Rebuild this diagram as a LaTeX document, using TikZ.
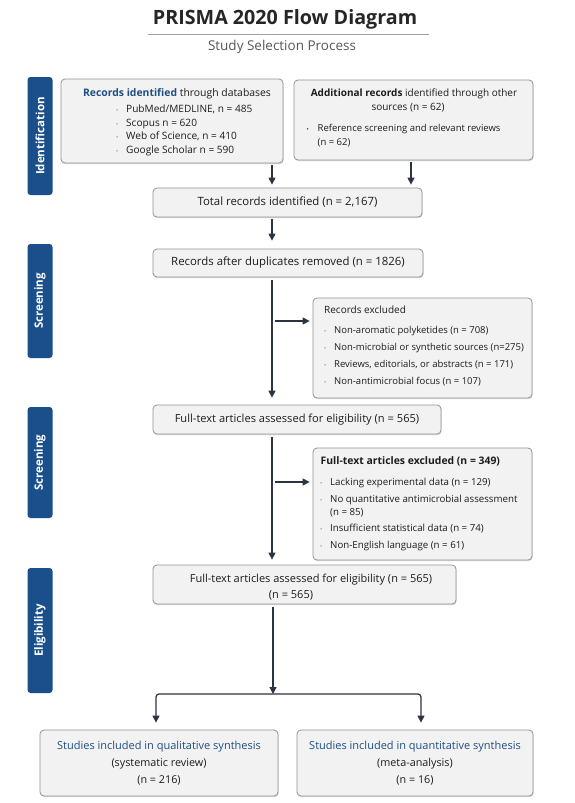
\documentclass[tikz,border=0pt]{standalone}
\usepackage{fontspec}
\setmainfont{Open Sans}
\usetikzlibrary{arrows.meta,shadows}
\definecolor{navy}{HTML}{1A4F8C}
\definecolor{navytxt}{HTML}{1F4E82}
\definecolor{boxfill}{HTML}{F2F2F3}
\definecolor{boxline}{HTML}{8F9296}
\definecolor{arrowc}{HTML}{2C3440}
\definecolor{txt}{HTML}{1C1C1C}
\definecolor{bulc}{HTML}{8A8A8A}
\definecolor{rulec}{HTML}{A0A0A0}
\newcommand\fsz[1]{\fontsize{#1}{#1}\selectfont}
\newcommand\bulg{\makebox[10pt][l]{\color{bulc}\fontsize{6}{6}\selectfont\textbullet}}
\newcommand\bulk{\makebox[11pt][l]{\color{txt}\fontsize{6}{6}\selectfont\textbullet}}
\begin{document}
\begin{tikzpicture}[x=1pt,y=-1pt,
  box/.style={draw=boxline, fill=boxfill, rounded corners=4pt, line width=0.8pt, inner sep=0pt,
    drop shadow={shadow xshift=0.6pt, shadow yshift=-1.2pt, opacity=0.15, fill=black}},
  phase/.style={fill=navy, rounded corners=3pt, text=white, font=\fsz{11.5}\bfseries, rotate=90, inner sep=0pt},
  conn/.style={draw=arrowc, line width=1.2pt, -{Triangle[length=7pt,width=7pt]}},
  lbl/.style={text=txt, inner sep=0pt},
]
\useasboundingbox[fill=white] (0,0) rectangle (575,803);

% title
\node[lbl, font=\fsz{19.7}\bfseries, text=black!85] (title) at (285,19) {PRISMA 2020 Flow Diagram};
\coordinate (rl) at (148,34);
\coordinate (rr) at (429,34);
\draw[rulec, line width=0.7pt] (rl) -- (rr);
\node[lbl, font=\fsz{13.5}, text=black!65] (subtitle) at (282,47) {Study Selection Process};

% phase labels
\node[phase, minimum width=118, minimum height=25] (pid) at (40,136) {Identification};
\node[phase, minimum width=114, minimum height=25] (ps1) at (40,301) {Screening};
\node[phase, minimum width=111, minimum height=25] (ps2) at (40,462.5) {Screening};
\node[phase, minimum width=125, minimum height=25] (pel) at (40,630.5) {Eligibility};

% boxes
\node[box, minimum width=222, minimum height=84] (boxA) at (172,121) {};
\node[box, minimum width=239, minimum height=80] (boxB) at (413.5,120) {};
\node[box, minimum width=269, minimum height=29, font=\fsz{11.4}, text=txt] (total) at (287.5,202.5) {Total records identified (n = 2,167)};
\node[box, minimum width=270, minimum height=28, font=\fsz{11.4}, text=txt] (dup) at (288,263) {Records after duplicates removed (n = 1826)};
\node[box, minimum width=219, minimum height=100] (excl1) at (422.5,348) {};
\node[box, minimum width=288, minimum height=29, font=\fsz{11.1}, text=txt] (ft) at (297,419.5) {Full-text articles assessed for eligibility (n = 565)};
\node[box, minimum width=219, minimum height=112] (excl2) at (422.5,504) {};
\node[box, minimum width=303, minimum height=39] (elig) at (304.5,584.5) {};
\node[box, minimum width=238, minimum height=66, align=center, font=\fontsize{10.8}{17}\selectfont, text=txt] (qual) at (159,763)
  {\textcolor{navytxt}{\fontsize{11}{17}\selectfont Studies included in qualitative synthesis}\\(systematic review)\\(n = 216)};
\node[box, minimum width=236, minimum height=66, align=center, font=\fontsize{10.8}{17}\selectfont, text=txt] (quant) at (415,763)
  {\textcolor{navytxt}{\fontsize{11}{17}\selectfont Studies included in quantitative synthesis}\\(meta-analysis)\\(n = 16)};

% box A text
\node[lbl, anchor=base, font=\fsz{10.4}] (aT) at (177,96.5) {\textcolor{navytxt}{\bfseries Records identified} through databases};
\node[lbl, anchor=base west, font=\fsz{10.1}] (a1) at (116,112.5) {\bulg PubMed/MEDLINE, n = 485};
\node[lbl, anchor=base west, font=\fsz{10.1}] (a2) at (116,126.5) {\bulg Scopus n = 620};
\node[lbl, anchor=base west, font=\fsz{10.1}] (a3) at (116,139.5) {\bulg Web of Science, n = 410};
\node[lbl, anchor=base west, font=\fsz{10.1}] (a4) at (116,153.5) {\bulg Google Scholar n = 590};

% box B text
\node[lbl, anchor=base, font=\fsz{10}] (bT1) at (414,96.5) {\textbf{Additional records} identified through other};
\node[lbl, anchor=base, font=\fsz{10}] (bT2) at (408,110.5) {sources (n = 62)};
\node[lbl, anchor=base west, font=\fsz{9.5}] (b1) at (306.5,131.5) {\bulk Reference screening and relevant reviews};
\node[lbl, anchor=base west, font=\fsz{9.5}] (b2) at (317.5,145.5) {(n = 62)};

% excluded 1 text
\node[lbl, anchor=base west, font=\fsz{10}] (e1T) at (324,313.5) {Records excluded};
\node[lbl, anchor=base west, font=\fsz{9.5}] (e11) at (324,333.5) {\bulg Non-aromatic polyketides (n = 708)};
\node[lbl, anchor=base west, font=\fsz{9.5}] (e12) at (324,350.5) {\bulg Non-microbial or synthetic sources (n=275)};
\node[lbl, anchor=base west, font=\fsz{9.5}] (e13) at (324,367.5) {\bulg Reviews, editorials, or abstracts (n = 171)};
\node[lbl, anchor=base west, font=\fsz{9.5}] (e14) at (324,384.5) {\bulg Non-antimicrobial focus (n = 107)};

% excluded 2 text
\node[lbl, anchor=base west, font=\fsz{10.4}\bfseries] (e2T) at (320.5,464.5) {Full-text articles excluded (n = 349)};
\node[lbl, anchor=base west, font=\fsz{9.7}] (e21) at (320,485.5) {\bulg Lacking experimental data (n = 129)};
\node[lbl, anchor=base west, font=\fsz{9.7}] (e22) at (320,502.5) {\bulg No quantitative antimicrobial assessment};
\node[lbl, anchor=base west, font=\fsz{9.7}] (e22b) at (330,515.5) {(n = 85)};
\node[lbl, anchor=base west, font=\fsz{9.7}] (e23) at (320,531.5) {\bulg Insufficient statistical data (n = 74)};
\node[lbl, anchor=base west, font=\fsz{9.7}] (e24) at (320,548.5) {\bulg Non-English language (n = 61)};

% eligibility box text
\node[lbl, anchor=base, font=\fsz{11}] (g1) at (311,582) {Full-text articles assessed for eligibility (n = 565)};
\node[lbl, anchor=base, font=\fsz{11}] (g2) at (291,598) {(n = 565)};

% connectors
\coordinate (xa) at (272,0);
\coordinate (xb) at (411,0);
\draw[conn, shorten <=2pt, shorten >=3pt] (boxA.south -| xa) -- (total.north -| xa);
\draw[conn, shorten <=2pt, shorten >=3pt] (boxB.south -| xb) -- (total.north -| xb);
\draw[conn, shorten <=2pt, shorten >=8pt] (total.south -| xa) -- (dup.north -| xa);
\draw[conn, shorten <=3pt, shorten >=7pt] (dup.south -| xa) -- (ft.north -| xa);
\coordinate (h1) at (275,321);
\draw[conn, shorten >=3pt] (h1) -- (excl1.west |- h1);
\draw[conn, shorten <=3pt, shorten >=5pt] (ft.south -| xa) -- (elig.north -| xa);
\coordinate (h2) at (275,482);
\draw[conn, shorten >=3pt] (h2) -- (excl2.west |- h2);
\coordinate (split) at (273,694);
\draw[conn, shorten <=3pt] (elig.south -| split) -- (split);
\coordinate (sl) at (156,694);
\coordinate (sr) at (421,694);
\draw[conn, rounded corners=3pt, shorten >=7pt] (split) -- (sl) -- (qual.north -| sl);
\draw[conn, rounded corners=3pt, shorten >=7pt] (split) -- (sr) -- (quant.north -| sr);
\end{tikzpicture}
\end{document}
